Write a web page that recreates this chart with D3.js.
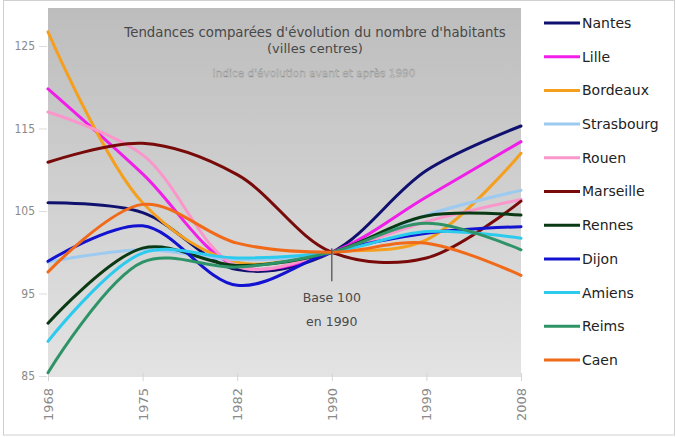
<!DOCTYPE html>
<html>
<head>
<meta charset="utf-8">
<script src="https://cdn.jsdelivr.net/npm/d3@7"></script>
<style>
  body { margin: 0; background: #fff; }
  text { font-family: "DejaVu Sans", sans-serif; }
</style>
</head>
<body>
<script>
// data (index, base 100 in 1990)
let years = ["1968", "1975", "1982", "1990", "1999", "2008"];
let cities = ["Nantes", "Lille", "Bordeaux", "Strasbourg", "Rouen", "Marseille",
              "Rennes", "Dijon", "Amiens", "Reims", "Caen"];
let nantes     = [106.0, 104.8, 97.9, 100, 109.9, 115.3];
let lille      = [119.8, 109.5, 98.3, 100, 106.7, 113.4];
let bordeaux   = [126.7, 106.0, 98.8, 100, 101.5, 112.0];
let strasbourg = [98.8, 100.3, 99.1, 100, 104.5, 107.5];
let rouen      = [117.0, 111.8, 98.3, 100, 103.7, 106.4];
let marseille  = [110.9, 113.2, 109.4, 100, 99.3, 106.2];
let rennes     = [91.4, 100.5, 98.4, 100, 104.4, 104.5];
let dijon      = [98.9, 103.2, 96.0, 100, 102.3, 103.1];
let amiens     = [89.2, 99.9, 99.3, 100, 102.5, 101.7];
let reims      = [85.4, 98.8, 98.2, 100, 103.5, 100.3];
let caen       = [97.6, 105.8, 101.1, 100, 101.1, 97.2];
let yTicks = [85, 95, 105, 115, 125];
let colors = ["#10106e", "#f01ee8", "#f4a01e", "#9ccaf0", "#fa96cc", "#780a0a",
              "#0a3a14", "#1212d0", "#2ccbee", "#2e9468", "#f06a1a"];

let series = [nantes, lille, bordeaux, strasbourg, rouen, marseille,
              rennes, dijon, amiens, reims, caen];

let width = 676, height = 437;
let plot = {left: 48, right: 521, top: 8, bottom: 377};

let svg = d3.select("body").append("svg")
  .attr("width", width)
  .attr("height", height);

// outer frame
svg.append("rect")
  .attr("x", 3.5).attr("y", 0.5)
  .attr("width", width - 5).attr("height", height - 2.5)
  .attr("fill", "#fff")
  .attr("stroke", "#d0d0d0");

// gradient background of the plot
let grad = svg.append("defs").append("linearGradient")
  .attr("id", "bg").attr("x1", 0).attr("y1", 0).attr("x2", 0).attr("y2", 1);
grad.append("stop").attr("offset", "0%").attr("stop-color", "#bdbdbd");
grad.append("stop").attr("offset", "100%").attr("stop-color", "#e3e3e3");

let x = d3.scalePoint()
  .domain(years)
  .range([plot.left, plot.right]);

let y = d3.scaleLinear()
  .domain([85, 129.6])
  .range([376, plot.top]);

svg.append("rect")
  .attr("x", plot.left).attr("y", plot.top)
  .attr("width", plot.right - plot.left)
  .attr("height", plot.bottom - plot.top)
  .attr("fill", "url(#bg)");

// y axis
let yaxis = d3.axisLeft(y).tickValues(yTicks).tickSize(8).tickPadding(4);
let gy = svg.append("g")
  .attr("transform", "translate(" + (plot.left - 1) + ",0)")
  .call(yaxis);
gy.select(".domain").remove();
gy.selectAll("line").attr("stroke", "#dcdcdc");
gy.selectAll("text")
  .attr("fill", "#8a8a8a")
  .style("font-size", "12px")
  .style("font-family", "'Liberation Sans Narrow', 'DejaVu Sans Condensed', sans-serif");

// x axis, labels turned
let xaxis = d3.axisBottom(x).tickSize(8).tickPadding(4);
let gx = svg.append("g")
  .attr("transform", "translate(0," + (plot.bottom - 4) + ")")
  .call(xaxis);
gx.select(".domain").remove();
gx.selectAll("line").attr("stroke", "#d4d4d4");
gx.selectAll("text")
  .attr("fill", "#8a8a8a")
  .style("font-size", "13px")
  .attr("transform", "rotate(-90)")
  .attr("text-anchor", "end")
  .attr("dy", "0.35em")
  .attr("x", -15)
  .attr("y", 0);

// title block
svg.append("text")
  .attr("x", 315).attr("y", 37)
  .attr("text-anchor", "middle")
  .attr("fill", "#484848")
  .style("font-size", "13.3px")
  .text("Tendances comparées d'évolution du nombre d'habitants");
svg.append("text")
  .attr("x", 315).attr("y", 53)
  .attr("text-anchor", "middle")
  .attr("fill", "#484848")
  .style("font-size", "13px")
  .text("(villes centres)");
svg.append("text")
  .attr("x", 314).attr("y", 77)
  .attr("text-anchor", "middle")
  .attr("fill", "#f4f4f4")
  .attr("stroke", "#8c8c8c")
  .attr("stroke-width", 0.5)
  .style("font-size", "10.5px")
  .text("Indice d'évolution avant et après 1990");

// lines
let line = d3.line()
  .x((d, i) => x(years[i]))
  .y(d => y(d))
  .curve(d3.curveCatmullRom.alpha(0.5));

svg.append("g")
  .selectAll("path")
  .data(series)
  .enter()
  .append("path")
    .attr("d", d => line(d))
    .attr("fill", "none")
    .attr("stroke", (d, i) => colors[i])
    .attr("stroke-width", 3)
    .attr("stroke-linejoin", "round")
    .attr("stroke-linecap", "round");

// base 100 marker
svg.append("line")
  .attr("x1", x("1990")).attr("x2", x("1990"))
  .attr("y1", y(100) - 4).attr("y2", y(100) + 29)
  .attr("stroke", "#555").attr("stroke-width", 1.3);
svg.append("text")
  .attr("x", x("1990")).attr("y", 302)
  .attr("text-anchor", "middle")
  .attr("fill", "#4a4a4a")
  .style("font-size", "12.5px")
  .text("Base 100");
svg.append("text")
  .attr("x", x("1990")).attr("y", 326)
  .attr("text-anchor", "middle")
  .attr("fill", "#4a4a4a")
  .style("font-size", "12.5px")
  .text("en 1990");

// legend
let legend = svg.append("g")
  .selectAll("g")
  .data(cities)
  .enter()
  .append("g")
    .attr("transform", (d, i) => "translate(544," + (23 + i * 33.7) + ")");
legend.append("line")
  .attr("x1", 0).attr("x2", 36)
  .attr("stroke", (d, i) => colors[i])
  .attr("stroke-width", 3);
legend.append("text")
  .attr("x", 38).attr("dy", "0.35em")
  .attr("fill", "#222")
  .style("font-size", "14px")
  .text(d => d);
</script>
</body>
</html>
